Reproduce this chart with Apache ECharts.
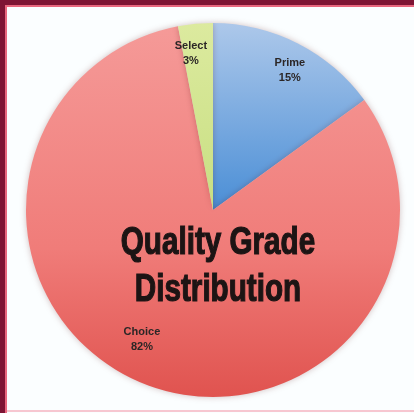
<!DOCTYPE html>
<html>
<head>
<meta charset="utf-8">
<script src="https://cdn.jsdelivr.net/npm/echarts@6/dist/echarts.min.js"></script>
<style>
html,body{margin:0;padding:0;background:#fbfeff;overflow:hidden;}
.b{position:absolute;}
#chart{position:absolute;left:0;top:0;width:414px;height:413px;}
</style>
</head>
<body>
<div class="b" style="left:0;top:0;width:414px;height:5px;background:#7e1434"></div>
<div class="b" style="left:0;top:0;width:5px;height:413px;background:#7e1434"></div>
<div class="b" style="left:5px;top:5px;width:409px;height:2px;background:#e8667e"></div>
<div class="b" style="left:5px;top:5px;width:2px;height:408px;background:#e8667e"></div>
<div class="b" style="left:7px;top:410px;width:407px;height:2px;background:#f7c6d0"></div>
<div id="chart"></div>
<script>
const categories = ['Prime', 'Choice', 'Select'];
const values = [15, 82, 3];
const titleLines = ['Quality Grade', 'Distribution'];

const fills = [
  {type:'linear',x:0,y:0,x2:0,y2:1,colorStops:[{offset:0,color:'#adc8ea'},{offset:1,color:'#4a8ed6'}]},
  {type:'linear',x:0,y:0,x2:0,y2:1,colorStops:[{offset:0,color:'#f59a98'},{offset:0.6,color:'#f07c79'},{offset:1,color:'#e0534f'}]},
  {type:'linear',x:0,y:0,x2:0,y2:1,colorStops:[{offset:0,color:'#dcea9f'},{offset:1,color:'#c8df82'}]}
];
const labelOffsets = [[4,3],[-12,-20],[-7,3]];

const titleFont = 'bold 38px "Liberation Sans", Arial, sans-serif';

const chart = echarts.init(document.getElementById('chart'), null, {renderer:'canvas'});
chart.setOption({
  animation:false,
  graphic: titleLines.map((t,i)=>({
    type:'text', x:218, y:244 + i*47, scaleX:0.78, z:100, silent:true,
    style:{text:t, font:titleFont, fill:'#1c1414', stroke:'#1c1414', lineWidth:1.2, align:'center', verticalAlign:'middle'}
  })),
  series:[
    {
      type:'pie', center:[213,210], radius:[0,187], startAngle:90, clockwise:true,
      silent:true, label:{show:false}, labelLine:{show:false},
      itemStyle:{shadowBlur:6,shadowColor:'rgba(80,0,0,0.25)'},
      data: categories.map((c,i)=>({name:c,value:values[i],itemStyle:{color:fills[i]}}))
    },
    {
      type:'pie', center:[213,210], radius:[128,187], startAngle:90, clockwise:true,
      silent:true, z:5,
      itemStyle:{color:'rgba(0,0,0,0)'},
      label:{show:true,position:'inside',formatter:p=>p.name+'\n'+p.value+'%',
        fontFamily:'"Liberation Sans",Arial,sans-serif',fontWeight:'bold',fontSize:11,lineHeight:15,color:'#2b2626'},
      labelLine:{show:false},
      data: categories.map((c,i)=>({name:c,value:values[i],label:{offset:labelOffsets[i]}}))
    }
  ]
});
</script>
</body>
</html>
